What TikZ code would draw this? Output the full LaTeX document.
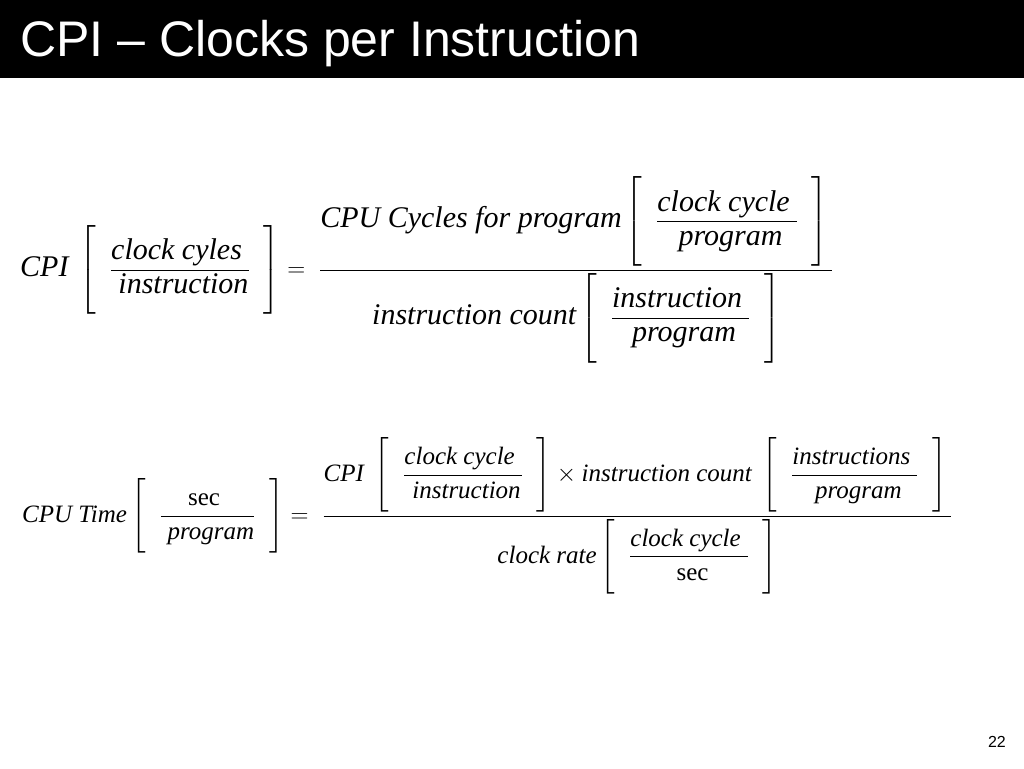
\documentclass[tikz,border=0pt]{standalone}
\usepackage{amsmath}
\usepackage{fontspec}
\setmainfont{Liberation Serif}
\newfontfamily\titlefont{Liberation Sans}
\newcommand{\ti}[1]{\textit{#1}}
\newcommand{\bfr}[2]{\left[\;\;\dfrac{\rule{0pt}{1.05em}#1\;}{\;#2\rule[-0.45em]{0pt}{0pt}}\;\;\right]}
\tikzset{
  eqn/.style={inner sep=0pt, anchor=west},
}
\begin{document}
\begin{tikzpicture}[x=1pt,y=-1pt]
  \useasboundingbox (0,0) rectangle (1024,768);
  \fill[black] (0,0) rectangle (1024,78);
  \node[anchor=west, text=white, inner sep=0pt, font=\titlefont\fontsize{50}{56}\selectfont] (title) at (20,44) {CPI – Clocks per Instruction};
  % first equation
  \node[eqn, font=\fontsize{30}{34}\selectfont] (cpieq) at (20,270) {$
    \ti{CPI}\;\bfr{\ti{clock cyles}}{\ti{instruction}} =
    \;\dfrac{\ti{CPU Cycles for program}\bfr{\ti{clock cycle}}{\ti{program}}\rule[-0.5em]{0pt}{0pt}}
          {\rule{0pt}{1.3em}\ti{instruction count}\bfr{\ti{instruction}}{\ti{program}}}$};
  % second equation
  \node[eqn, font=\fontsize{25}{30}\selectfont] (timeeq) at (22,516) {$
    \ti{CPU Time}\bfr{\text{sec}}{\ti{program}} =
    \;\dfrac{\ti{CPI}\;\bfr{\ti{clock cycle}}{\ti{instruction}}\times\ti{instruction count}\;\bfr{\ti{instructions}}{\ti{program}}\rule[-0.4em]{0pt}{0pt}}
          {\rule{0pt}{1.2em}\ti{clock rate}\bfr{\ti{clock cycle}}{\text{sec}}}$};
  \node[anchor=east, inner sep=0pt, font=\titlefont\fontsize{16}{18}\selectfont] (pagenum) at (1006,742) {22};
\end{tikzpicture}
\end{document}
